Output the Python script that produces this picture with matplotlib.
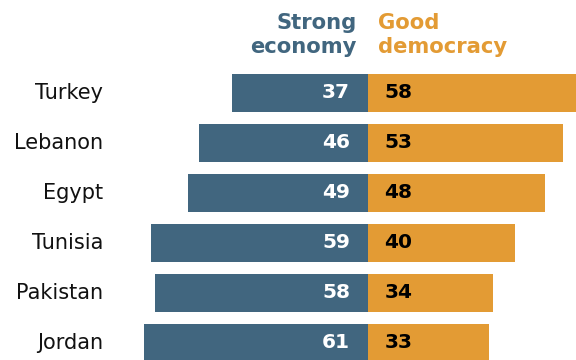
import matplotlib
matplotlib.use('Agg')
from matplotlib import pyplot as plt
import numpy as np

# %% data
countries = ['Turkey', 'Lebanon', 'Egypt', 'Tunisia', 'Pakistan', 'Jordan']
economy = [37, 46, 49, 59, 58, 61]
democracy = [58, 53, 48, 40, 34, 33]

blue = '#41667f'
orange = '#e39b34'

# %% plot
fig = plt.figure(figsize=(5.76, 3.6), dpi=100)
ax = fig.add_axes([0, 0, 1, 1])
y = np.arange(len(countries))

ax.barh(y, [-v for v in economy], height=0.76, color=blue, edgecolor='none')
ax.barh(y, democracy, height=0.76, color=orange, edgecolor='none')

for i, (c, e, d) in enumerate(zip(countries, economy, democracy)):
    ax.text(-72, i, c, ha='right', va='center', fontsize=15, color='#111111')
    ax.text(-4.9, i, str(e), ha='right', va='center', fontsize=14.5, fontweight='bold', color='white')
    ax.text(4.5, i, str(d), ha='left', va='center', fontsize=14.5, fontweight='bold', color='black')

ax.text(-3, -1.16, 'Strong\neconomy', ha='right', va='center', fontsize=15.2,
        fontweight='bold', color=blue, linespacing=1.25)
ax.text(2.7, -1.16, 'Good\ndemocracy', ha='left', va='center', fontsize=15.2,
        fontweight='bold', color=orange, linespacing=1.25)

ax.set_xlim(-100, 56.52)
ax.set_ylim(5.34, -1.86)
ax.axis('off')

fig.savefig('out.png', dpi=100)
